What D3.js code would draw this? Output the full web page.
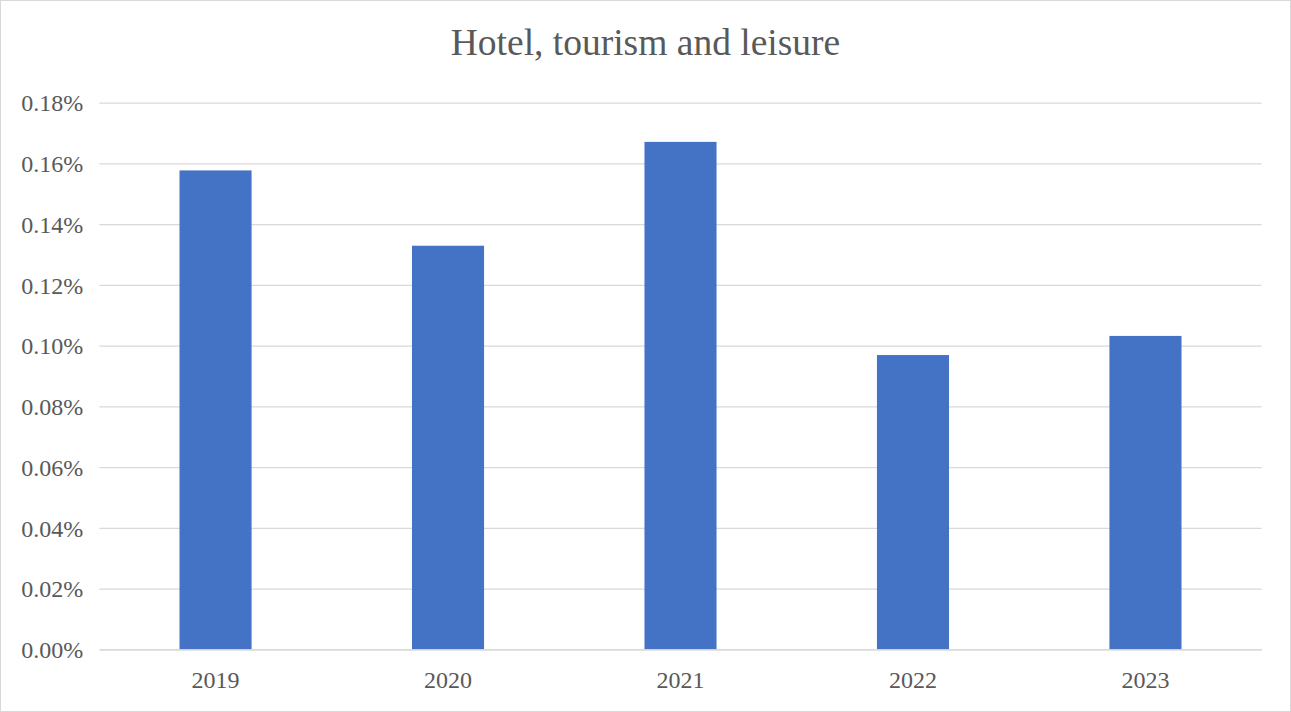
<!DOCTYPE html>
<html>
<head>
<meta charset="utf-8">
<script src="https://cdn.jsdelivr.net/npm/d3@7"></script>
<style>
  html, body { margin: 0; padding: 0; background: #ffffff; }
  svg { display: block; }
</style>
</head>
<body>
<div id="chart"></div>
<script>
// Share of total, by year (percent)
const years = ["2019", "2020", "2021", "2022", "2023"];
const shares = [0.1577, 0.1329, 0.1671, 0.0969, 0.1032];
const yTicks = [0, 0.02, 0.04, 0.06, 0.08, 0.10, 0.12, 0.14, 0.16, 0.18];
const chartTitle = "Hotel, tourism and leisure";

const width = 1291, height = 712;
const margin = { top: 102.7, right: 29.3, bottom: 62.7, left: 99.3 };
const fontFamily = "'Liberation Serif', 'Times New Roman', serif";
const textColor = "#595959";

const svg = d3.select("#chart").append("svg")
  .attr("width", width)
  .attr("height", height);

// chart area frame
svg.append("rect")
  .attr("x", 0.5).attr("y", 0.5)
  .attr("width", width - 1).attr("height", height - 1)
  .attr("fill", "#ffffff")
  .attr("stroke", "#d9d9d9")
  .attr("stroke-width", 1);

const x = d3.scaleBand()
  .domain(years)
  .range([margin.left, width - margin.right])
  .paddingInner(0.69)
  .paddingOuter(0.345);

const y = d3.scaleLinear()
  .domain([0, 0.18])
  .range([height - margin.bottom, margin.top]);

// horizontal gridlines + value labels
const yAxis = d3.axisLeft(y)
  .tickValues(yTicks)
  .tickSize(-(width - margin.left - margin.right))
  .tickPadding(16)
  .tickFormat(d => d3.format(".2f")(d) + "%");

const gy = svg.append("g")
  .attr("transform", `translate(${margin.left},0)`)
  .call(yAxis);
gy.select(".domain").remove();
gy.selectAll(".tick line")
  .attr("stroke", "#d9d9d9")
  .attr("stroke-width", 1.3);
gy.selectAll(".tick text")
  .attr("fill", textColor)
  .attr("font-family", fontFamily)
  .attr("font-size", 24)
  .attr("dy", "0.34em");

// bars
svg.append("g")
  .selectAll("rect")
  .data(years.map((yr, i) => ({ yr, v: shares[i] })))
  .join("rect")
  .attr("x", d => x(d.yr))
  .attr("y", d => y(d.v))
  .attr("width", x.bandwidth())
  .attr("height", d => y(0) - y(d.v))
  .attr("fill", "#4472c4");

// category axis
const xAxis = d3.axisBottom(x).tickSize(0).tickPadding(22);
const gx = svg.append("g")
  .attr("transform", `translate(0,${y(0)})`)
  .call(xAxis);
gx.select(".domain")
  .attr("stroke", "#d9d9d9")
  .attr("stroke-width", 1.3);
gx.selectAll(".tick text")
  .attr("fill", textColor)
  .attr("font-family", fontFamily)
  .attr("font-size", 24)
  .attr("dy", "0.71em");

// title, centred on the whole chart area
svg.append("text")
  .attr("x", width / 2)
  .attr("y", 55)
  .attr("text-anchor", "middle")
  .attr("fill", textColor)
  .attr("font-family", fontFamily)
  .attr("font-size", 37.5)
  .text(chartTitle);
</script>
</body>
</html>
